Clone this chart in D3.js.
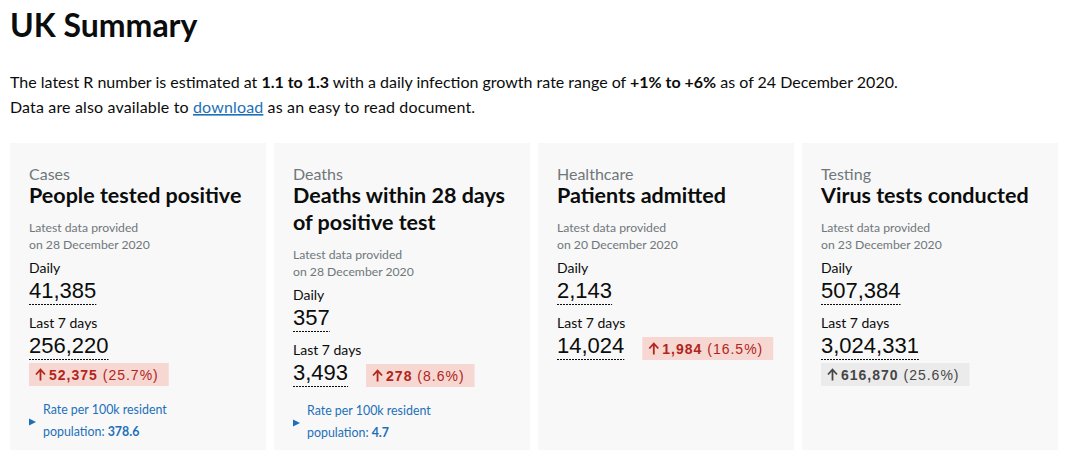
<!DOCTYPE html>
<html>
<head>
<meta charset="utf-8">
<script src="https://cdn.jsdelivr.net/npm/d3@7"></script>
<style>
  html, body { margin: 0; padding: 0; background: #ffffff; }
  svg { display: block; }
</style>
</head>
<body>
<div id="chart"></div>
<script>
// ---------- data ----------
const pageTitle = "UK Summary";
const rLow = "1.1", rHigh = "1.3";
const growthLow = "+1%", growthHigh = "+6%";
const rDate = "24 December 2020";

const categories = ["Cases", "Deaths", "Healthcare", "Testing"];
const headlines = ["People tested positive", "Deaths within 28 days of positive test", "Patients admitted", "Virus tests conducted"];
const dates = ["28 December 2020", "28 December 2020", "20 December 2020", "23 December 2020"];
const dailyValues = [41385, 357, 2143, 507384];
const weekValues = [256220, 3493, 14024, 3024331];
const changeValues = [52375, 278, 1984, 616870];
const changePct = [25.7, 8.6, 16.5, 25.6];
const changeTone = ["bad", "bad", "bad", "neutral"];
const rates = [378.6, 4.7, null, null];

// ---------- layout ----------
const W = 1080, H = 450;
const FONT = "Lato, 'Noto Sans', sans-serif";
const NUMFONT = "'Liberation Sans', Arial, sans-serif";
const INK = "#0b0c0c", GREY = "#6f777b", BLUE = "#1d70b8";

const svg = d3.select("#chart").append("svg").attr("width", W).attr("height", H)
  .style("font-family", FONT);

svg.append("text").attr("x", 10).attr("y", 37)
  .attr("font-size", 32).attr("font-weight", 700).attr("fill", INK).text(pageTitle);

const p1 = svg.append("text").attr("x", 10).attr("y", 88).attr("font-size", 16).attr("fill", INK);
p1.append("tspan").text("The latest R number is estimated at ");
p1.append("tspan").attr("font-weight", 700).text(rLow + " to " + rHigh);
p1.append("tspan").text(" with a daily infection growth rate range of ");
p1.append("tspan").attr("font-weight", 700).text(growthLow + " to " + growthHigh);
p1.append("tspan").text(" as of " + rDate + ".");

const p2 = svg.append("text").attr("x", 10).attr("y", 113).attr("font-size", 16)
  .attr("letter-spacing", 0.15).attr("fill", INK);
p2.append("tspan").text("Data are also available to ");
p2.append("tspan").attr("fill", BLUE).attr("text-decoration", "underline").text("download");
p2.append("tspan").text(" as an easy to read document.");

const fmt = d3.format(",");
const cardX = d3.scaleBand().domain(categories).range([10, 10 + 4 * 256 + 3 * 8]).paddingInner(8 / 264);
const cardTop = 143, pad = 19;

categories.forEach((cat, i) => {
  const g = svg.append("g").attr("transform", `translate(${cardX(cat)},${cardTop})`);
  const cw = cardX.bandwidth();
  g.append("rect").attr("width", cw).attr("height", H - cardTop).attr("fill", "#f8f8f8");

  g.append("text").attr("x", pad).attr("y", 37).attr("font-size", 16).attr("fill", GREY).text(cat);

  // wrap headline
  const words = headlines[i].split(" ");
  let lines = [], cur = "";
  const probe = g.append("text").attr("font-size", 21.5).attr("font-weight", 700).attr("opacity", 0);
  words.forEach(w => {
    const t = cur ? cur + " " + w : w;
    probe.text(t);
    if (probe.node().getComputedTextLength() > cw - 2 * pad && cur) { lines.push(cur); cur = w; }
    else cur = t;
  });
  lines.push(cur);
  probe.remove();
  let b = 60;
  lines.forEach((l, k) => {
    g.append("text").attr("x", pad).attr("y", 60 + k * 27).attr("font-size", 21.5)
      .attr("font-weight", 700).attr("fill", INK).text(l);
    b = 60 + k * 27;
  });

  g.append("text").attr("x", pad).attr("y", b + 29).attr("font-size", 12.2).attr("fill", GREY).text("Latest data provided");
  g.append("text").attr("x", pad).attr("y", b + 46).attr("font-size", 12.2).attr("fill", GREY).text("on " + dates[i]);

  function numberRow(label, value, labelY) {
    g.append("text").attr("x", pad).attr("y", labelY).attr("font-size", 14).attr("fill", INK).text(label);
    const t = g.append("text").attr("x", pad).attr("y", labelY + 25).attr("font-family", NUMFONT)
      .attr("font-size", 22).attr("fill", INK).text(fmt(value));
    const w = t.node().getComputedTextLength();
    g.append("line").attr("x1", pad).attr("x2", pad + w).attr("y1", labelY + 31.5).attr("y2", labelY + 31.5)
      .attr("stroke", INK).attr("stroke-width", 1).attr("stroke-dasharray", "2,1");
    return w;
  }
  numberRow("Daily", dailyValues[i], b + 70);
  const numY = b + 150;
  const nw = numberRow("Last 7 days", weekValues[i], b + 125);

  // badge
  const bad = changeTone[i] === "bad";
  const ink = bad ? "#b1251b" : "#464646";
  const bg = g.append("g");
  const brect = bg.append("rect").attr("height", 23).attr("fill", bad ? "#f6d7d2" : "#ebebeb");
  // up arrow
  bg.append("path").attr("d", "M11.5,17.5 V7 M7,11.5 L11.5,6.5 L16,11.5")
    .attr("fill", "none").attr("stroke", ink).attr("stroke-width", 1.8);
  const bt = bg.append("text").attr("x", 20).attr("y", 17).attr("font-family", NUMFONT).attr("font-size", 14)
    .attr("letter-spacing", 1).attr("fill", ink);
  bt.append("tspan").attr("font-weight", 700).text(fmt(changeValues[i]));
  bt.append("tspan").text(" (" + changePct[i].toFixed(1) + "%)");
  const bw = bt.node().getComputedTextLength() + 20 + 10;
  brect.attr("width", bw);
  let rowBottom;
  if (pad + nw + 18 + bw <= cw - 10) {
    bg.attr("transform", `translate(${pad + nw + 18},${numY - 16})`);
    rowBottom = numY + 7;
  } else {
    bg.attr("transform", `translate(${pad},${numY + 10})`);
    rowBottom = numY + 33;
  }

  if (rates[i] !== null) {
    const ry = rowBottom + 28;
    g.append("path").attr("d", `M${pad},${ry + 4.5} L${pad + 7},${ry + 8} L${pad},${ry + 11.5} Z`).attr("fill", BLUE);
    g.append("text").attr("x", pad + 14).attr("y", ry).attr("font-size", 12.4).attr("fill", BLUE).text("Rate per 100k resident");
    const rt = g.append("text").attr("x", pad + 14).attr("y", ry + 22).attr("font-size", 12.4).attr("fill", BLUE);
    rt.append("tspan").text("population: ");
    rt.append("tspan").attr("font-weight", 700).text(rates[i].toFixed(1));
  }
});
</script>
</body>
</html>
